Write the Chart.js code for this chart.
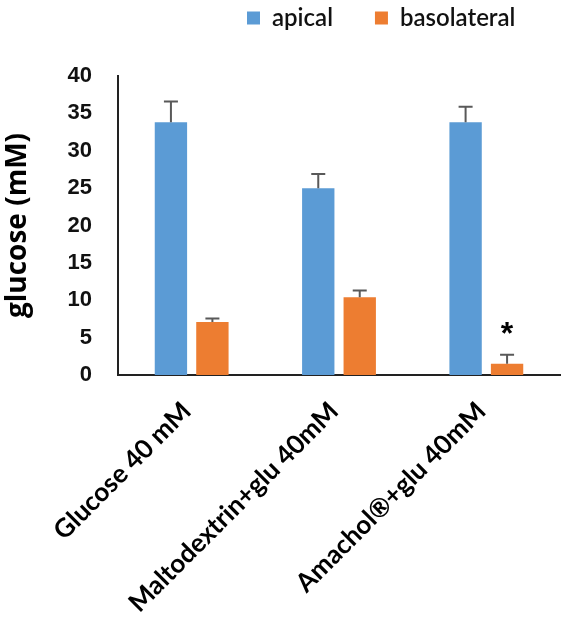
<!DOCTYPE html>
<html>
<head>
<meta charset="utf-8">
<script src="https://cdn.jsdelivr.net/npm/chart.js@4"></script>
<style>
html,body{margin:0;padding:0;background:#fff;}
#wrap{width:567px;height:618px;position:relative;}
</style>
</head>
<body>
<div id="wrap"><canvas id="c"></canvas></div>
<script>
const categories = ['Glucose 40 mM', 'Maltodextrin+glu 40mM', 'Amachol®+glu 40mM'];
const seriesNames = ['apical', 'basolateral'];
const apical = [33.8, 25.0, 33.8];
const apicalErr = [2.8, 1.9, 2.1];
const basolateral = [7.1, 10.4, 1.5];
const basolateralErr = [0.45, 0.9, 1.2];
const yTicks = [0, 5, 10, 15, 20, 25, 30, 35, 40];
const significance = [{ series: 1, index: 2, text: '*' }];

const errors = [apicalErr, basolateralErr];

const errorBarPlugin = {
  id: 'errorBars',
  afterDatasetsDraw(chart) {
    const ctx = chart.ctx;
    const y = chart.scales.y;
    ctx.save();
    ctx.strokeStyle = '#595959';
    ctx.lineWidth = 2;
    chart.data.datasets.forEach((ds, di) => {
      const meta = chart.getDatasetMeta(di);
      meta.data.forEach((bar, i) => {
        const top = y.getPixelForValue(ds.data[i] + errors[di][i]);
        const base = y.getPixelForValue(ds.data[i]);
        ctx.beginPath();
        ctx.moveTo(bar.x, base);
        ctx.lineTo(bar.x, top);
        ctx.moveTo(bar.x - 7, top);
        ctx.lineTo(bar.x + 7, top);
        ctx.stroke();
      });
    });
    ctx.fillStyle = '#000';
    ctx.font = 'bold 32px "Liberation Sans", Arial, sans-serif';
    ctx.textAlign = 'center';
    ctx.textBaseline = 'middle';
    significance.forEach(s => {
      const ds = chart.data.datasets[s.series];
      const bar = chart.getDatasetMeta(s.series).data[s.index];
      const top = y.getPixelForValue(ds.data[s.index] + errors[s.series][s.index]);
      ctx.fillText(s.text, bar.x, top - 20);
    });
    ctx.restore();
  }
};

const legendShift = {
  id: 'legendShift',
  afterLayout(chart) {
    const lg = chart.legend;
    lg.left += 205; lg.right += 205;
    lg.top -= 36; lg.bottom -= 36;
  }
};

new Chart(document.getElementById('c'), {
  type: 'bar',
  data: {
    labels: categories,
    datasets: [
      { label: seriesNames[0], data: apical, backgroundColor: '#5B9BD5' },
      { label: seriesNames[1], data: basolateral, backgroundColor: '#ED7D31' }
    ]
  },
  options: {
    responsive: true,
    maintainAspectRatio: false,
    animation: false,
    devicePixelRatio: 1,
    layout: { padding: { left: 0, right: 7, top: 0, bottom: 0 } },
    categoryPercentage: 0.563,
    barPercentage: 0.78,
    plugins: {
      tooltip: { enabled: false },
      legend: {
        position: 'top',
        align: 'start',
        labels: {
          boxWidth: 13,
          boxHeight: 13,
          padding: 42,
          color: '#111',
          font: { family: 'Lato', size: 24, weight: '600' }
        }
      }
    },
    scales: {
      x: {
        grid: { display: false, drawTicks: false },
        border: { display: true, color: '#222', width: 2 },
        ticks: {
          minRotation: 45,
          maxRotation: 45,
          padding: 21,
          labelOffset: -5,
          color: '#000',
          font: { family: 'Lato', size: 26, weight: 'bold' }
        },
        afterFit(s) { s.height = 243; }
      },
      y: {
        min: 0,
        max: 40,
        afterBuildTicks(s) { s.ticks = yTicks.map(v => ({ value: v })); },
        grid: { display: false, drawTicks: false },
        border: { display: true, color: '#222', width: 2 },
        ticks: {
          padding: 26,
          color: '#111',
          font: { family: '"Liberation Sans", Arial, sans-serif', size: 22, weight: 'bold' }
        },
        title: {
          display: true,
          text: 'glucose (mM)',
          color: '#000',
          padding: { top: 1, bottom: 0 },
          font: { family: '"Open Sans"', size: 28, weight: 'bold' }
        },
        afterFit(s) { s.width = 118; }
      }
    }
  },
  plugins: [errorBarPlugin, legendShift]
});
</script>
</body>
</html>
